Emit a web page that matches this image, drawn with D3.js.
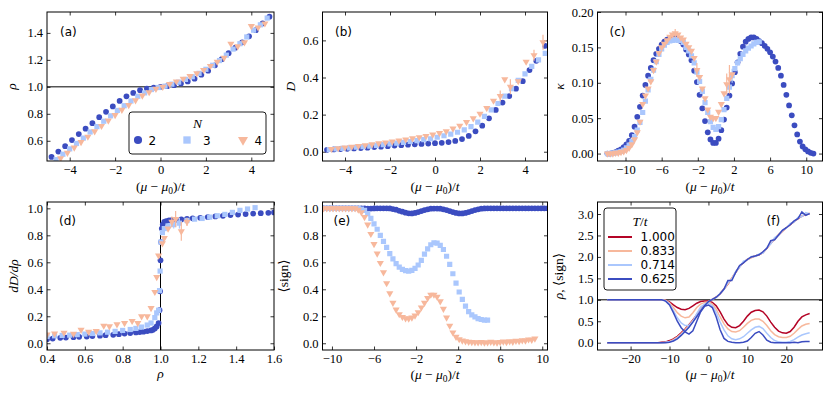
<!DOCTYPE html>
<html>
<head>
<meta charset="utf-8">
<script src="https://cdn.jsdelivr.net/npm/d3@7"></script>
<style>
  body { margin: 0; background: #fff; }
  .serif { font-family: "Liberation Serif", "DejaVu Serif", serif; }
  .sans { font-family: "DejaVu Sans", sans-serif; }
</style>
</head>
<body>
<svg id="chart" width="830" height="393"></svg>
<script>
// ---------- data ----------
// (a) density rho vs (mu - mu0)/t, pairs [mu, rho]
const rhoN2 = [[-4.8,0.48],[-4.5,0.52],[-4.2,0.56],[-3.9,0.605],[-3.6,0.65],[-3.3,0.69],[-3.0,0.73],[-2.7,0.775],[-2.4,0.815],[-2.1,0.855],[-1.8,0.895],[-1.5,0.93],[-1.2,0.955],[-0.9,0.975],[-0.6,0.987],[-0.3,0.995],[0,1.0],[0.3,1.005],[0.6,1.012],[0.9,1.025],[1.2,1.04],[1.5,1.06],[1.8,1.09],[2.1,1.12],[2.4,1.16],[2.7,1.205],[3.0,1.25],[3.3,1.29],[3.6,1.33],[3.9,1.375],[4.2,1.42],[4.5,1.47],[4.8,1.52]];
const rhoN3 = [[-4.6,0.46],[-4.3,0.50],[-4.0,0.54],[-3.7,0.58],[-3.4,0.62],[-3.1,0.665],[-2.8,0.705],[-2.5,0.745],[-2.2,0.785],[-1.9,0.825],[-1.6,0.86],[-1.3,0.895],[-1.0,0.93],[-0.7,0.955],[-0.4,0.98],[-0.1,0.995],[0.2,1.005],[0.5,1.02],[0.8,1.035],[1.1,1.055],[1.4,1.075],[1.7,1.10],[2.0,1.13],[2.3,1.16],[2.6,1.195],[2.9,1.235],[3.2,1.28],[3.5,1.32],[3.8,1.37],[4.1,1.42],[4.4,1.46],[4.7,1.51]];
const rhoN4 = [[-4.4,0.47],[-4.1,0.51],[-3.8,0.55],[-3.5,0.59],[-3.2,0.63],[-2.9,0.67],[-2.6,0.71],[-2.3,0.75],[-2.0,0.79],[-1.7,0.83],[-1.4,0.865],[-1.1,0.90],[-0.8,0.935],[-0.5,0.96],[-0.2,0.985],[0.1,1.0],[0.4,1.02],[0.7,1.04],[1.0,1.06],[1.3,1.08],[1.6,1.10],[1.9,1.125],[2.2,1.155],[2.5,1.185],[2.8,1.215],[3.1,1.32],[3.4,1.30],[3.7,1.33],[4.0,1.45],[4.3,1.44],[4.6,1.47]];

// (b) D vs (mu - mu0)/t, [mu, D, err]
const dN2 = [[-4.8,0.010],[-4.5,0.012],[-4.2,0.014],[-3.9,0.016],[-3.6,0.018],[-3.3,0.020],[-3.0,0.022],[-2.7,0.025],[-2.4,0.027],[-2.1,0.030],[-1.8,0.033],[-1.5,0.035],[-1.2,0.038],[-0.9,0.040],[-0.6,0.042],[-0.3,0.044],[0,0.046],[0.3,0.048],[0.6,0.052],[0.9,0.058],[1.2,0.068],[1.5,0.085],[1.8,0.11],[2.1,0.14],[2.4,0.18],[2.7,0.225],[3.0,0.265],[3.3,0.30],[3.6,0.34],[3.9,0.38],[4.2,0.44],[4.5,0.49],[4.9,0.57]];
const dN3 = [[-4.7,0.012],[-4.4,0.015],[-4.1,0.018],[-3.8,0.021],[-3.5,0.024],[-3.2,0.027],[-2.9,0.030],[-2.6,0.034],[-2.3,0.038],[-2.0,0.042],[-1.7,0.046],[-1.4,0.050],[-1.1,0.055],[-0.8,0.060],[-0.5,0.065],[-0.2,0.070],[0.1,0.078],[0.4,0.086],[0.7,0.095],[1.0,0.105],[1.3,0.118],[1.6,0.135],[1.9,0.16],[2.2,0.19],[2.5,0.225],[2.8,0.26],[3.1,0.30],[3.4,0.34],[3.7,0.385],[4.0,0.42],[4.3,0.46],[4.6,0.495],[4.9,0.53]];
const dN4 = [[-4.6,0.015],[-4.3,0.019],[-4.0,0.023],[-3.7,0.027],[-3.4,0.031],[-3.1,0.035],[-2.8,0.040],[-2.5,0.045],[-2.2,0.050],[-1.9,0.055],[-1.6,0.060],[-1.3,0.066],[-1.0,0.072],[-0.7,0.078],[-0.4,0.085],[-0.1,0.092],[0.2,0.100],[0.5,0.110],[0.8,0.125],[1.1,0.140],[1.4,0.160],[1.7,0.180],[2.0,0.205],[2.3,0.235],[2.6,0.275],[2.9,0.30,0.03],[3.1,0.39],[3.35,0.35,0.04],[3.7,0.38],[4.05,0.485],[4.4,0.52,0.03],[4.8,0.59,0.04]];

// (c) kappa vs (mu - mu0)/t, [mu, kappa, err]
const kN2 = [[-12.0,0.000],[-11.7,0.000],[-11.4,0.001],[-11.1,0.002],[-10.8,0.004],[-10.5,0.006],[-10.2,0.009],[-9.9,0.013],[-9.6,0.018],[-9.3,0.026],[-9.0,0.038],[-8.7,0.052],[-8.4,0.066],[-8.1,0.082],[-7.8,0.097],[-7.5,0.110],[-7.2,0.121],[-6.9,0.132],[-6.6,0.141],[-6.3,0.148],[-6.0,0.154],[-5.7,0.158],[-5.4,0.161],[-5.1,0.163],[-4.8,0.164],[-4.5,0.164],[-4.2,0.162],[-3.9,0.159],[-3.6,0.154],[-3.3,0.147],[-3.0,0.140],[-2.7,0.132],[-2.4,0.117],[-2.1,0.101],[-1.8,0.083],[-1.5,0.064],[-1.2,0.046],[-0.9,0.030],[-0.6,0.020],[-0.3,0.015],[0.0,0.015],[0.3,0.021],[0.6,0.033],[0.9,0.048],[1.2,0.065],[1.5,0.082],[1.8,0.099],[2.1,0.115],[2.4,0.129],[2.7,0.141],[3.0,0.151],[3.3,0.158],[3.6,0.162],[3.9,0.164],[4.2,0.164],[4.5,0.162],[4.8,0.159],[5.1,0.156],[5.4,0.152],[5.7,0.148],[6.0,0.143],[6.3,0.137],[6.6,0.130],[6.9,0.121],[7.2,0.110],[7.5,0.097],[7.8,0.083],[8.1,0.068],[8.4,0.054],[8.7,0.040],[9.0,0.027],[9.3,0.017],[9.6,0.010],[9.9,0.006],[10.2,0.003],[10.5,0.001],[10.8,0.000]];
const kN3 = [[-12.0,0.000],[-11.7,0.000],[-11.4,0.001],[-11.1,0.001],[-10.8,0.002],[-10.5,0.003],[-10.2,0.005],[-9.9,0.008],[-9.6,0.012],[-9.3,0.017],[-9.0,0.024],[-8.7,0.033],[-8.4,0.044],[-8.1,0.058],[-7.8,0.074],[-7.5,0.090],[-7.2,0.105],[-6.9,0.118],[-6.6,0.130],[-6.3,0.140],[-6.0,0.148],[-5.7,0.153],[-5.4,0.157],[-5.1,0.159],[-4.8,0.160],[-4.5,0.161],[-4.2,0.160],[-3.9,0.160],[-3.6,0.157],[-3.3,0.150],[-3.0,0.145],[-2.7,0.138],[-2.4,0.128],[-2.1,0.115],[-1.8,0.102],[-1.5,0.088],[-1.2,0.072],[-0.9,0.058],[-0.6,0.045],[-0.3,0.037],[0.0,0.034],[0.3,0.038],[0.6,0.048],[0.9,0.062],[1.2,0.078],[1.5,0.094,0.008],[1.8,0.110,0.01],[2.1,0.120],[2.4,0.128],[2.7,0.134],[3.0,0.140],[3.3,0.145],[3.6,0.149],[3.9,0.152],[4.2,0.155],[4.5,0.157],[4.8,0.158]];
const kN4 = [[-12.0,0.000],[-11.7,0.000],[-11.4,0.000],[-11.1,0.001],[-10.8,0.001],[-10.5,0.002],[-10.2,0.003],[-9.9,0.005],[-9.6,0.008],[-9.3,0.013],[-9.0,0.020],[-8.7,0.030],[-8.4,0.045],[-8.1,0.070],[-7.8,0.082],[-7.5,0.092],[-7.2,0.102],[-6.9,0.118],[-6.6,0.130],[-6.3,0.142],[-6.0,0.150],[-5.7,0.155],[-5.4,0.160],[-5.1,0.165],[-4.8,0.168],[-4.5,0.170,0.006],[-4.2,0.168],[-3.9,0.164],[-3.6,0.161],[-3.3,0.155],[-3.0,0.150],[-2.7,0.145],[-2.4,0.135],[-2.1,0.118,0.01],[-1.8,0.108],[-1.5,0.092],[-1.2,0.078],[-0.9,0.062],[-0.6,0.052],[-0.3,0.050],[0.0,0.050],[0.3,0.059],[0.6,0.070],[0.9,0.085],[1.2,0.098,0.015],[1.5,0.105,0.02],[1.8,0.112]];

// (d) dD/drho vs rho, [rho, dD/drho, err]
const gN2 = [[0.40,0.030],[0.43,0.035],[0.47,0.040],[0.50,0.042],[0.54,0.045],[0.57,0.048],[0.61,0.050],[0.64,0.053],[0.68,0.056],[0.71,0.060],[0.75,0.063],[0.78,0.067],[0.81,0.072],[0.84,0.076],[0.87,0.080],[0.89,0.083],[0.91,0.086],[0.93,0.090],[0.95,0.095],[0.96,0.100],[0.97,0.110],[0.98,0.125],[0.99,0.150],[0.995,0.245],[0.998,0.385],[1.0,0.615],[1.003,0.750],[1.007,0.850],[1.012,0.880],[1.02,0.900],[1.03,0.905],[1.045,0.910],[1.06,0.912],[1.08,0.915],[1.11,0.918],[1.14,0.922],[1.17,0.926],[1.21,0.930],[1.25,0.935],[1.29,0.940],[1.33,0.945],[1.37,0.950],[1.41,0.954],[1.45,0.958],[1.49,0.961],[1.53,0.964],[1.57,0.967],[1.60,0.970]];
const gN3 = [[0.40,0.050],[0.44,0.055],[0.48,0.058],[0.52,0.060],[0.56,0.064],[0.60,0.068],[0.64,0.072],[0.68,0.077],[0.72,0.082],[0.76,0.088],[0.80,0.095],[0.84,0.102],[0.87,0.110],[0.90,0.120],[0.93,0.135],[0.95,0.150],[0.97,0.190],[0.98,0.225],[0.99,0.245],[0.995,0.39],[0.998,0.535],[1.002,0.75],[1.01,0.82],[1.02,0.85],[1.04,0.87,0.02],[1.07,0.88,0.03],[1.10,0.89,0.04],[1.14,0.91],[1.18,0.92],[1.22,0.925],[1.26,0.935],[1.30,0.945],[1.34,0.955],[1.38,0.97],[1.42,0.985],[1.46,0.995],[1.50,1.005]];
const gN4 = [[0.40,0.065],[0.44,0.072],[0.49,0.078],[0.54,0.070],[0.58,0.100],[0.62,0.085],[0.66,0.090],[0.70,0.130],[0.73,0.125],[0.77,0.140],[0.81,0.150],[0.85,0.165],[0.88,0.150],[0.90,0.200],[0.93,0.200],[0.95,0.260],[0.97,0.380],[0.98,0.490],[0.99,0.650],[1.01,0.740],[1.02,0.780],[1.04,0.850],[1.06,0.900,0.04],[1.08,0.920,0.06],[1.11,0.830,0.07],[1.14,0.900,0.03]];

// (e) average sign vs (mu - mu0)/t, [mu, sign]
const sN2 = [[-10.8,1],[-10.5,1],[-10.2,1],[-9.9,1],[-9.6,1],[-9.3,1],[-9.0,1],[-8.7,1],[-8.4,1],[-8.1,1],[-7.8,1],[-7.5,1],[-7.2,1],[-6.9,0.999],[-6.6,0.998],[-6.3,0.998],[-6.0,0.999],[-5.7,1],[-5.4,1],[-5.1,1],[-4.8,1],[-4.5,0.999],[-4.2,0.995],[-3.9,0.99],[-3.6,0.982],[-3.3,0.975],[-3.0,0.968],[-2.7,0.963],[-2.4,0.962],[-2.1,0.966],[-1.8,0.972],[-1.5,0.98],[-1.2,0.987],[-0.9,0.993],[-0.6,0.997],[-0.3,0.998],[0,0.998],[0.3,0.997],[0.6,0.993],[0.9,0.987],[1.2,0.98],[1.5,0.972],[1.8,0.966],[2.1,0.962],[2.4,0.962],[2.7,0.966],[3.0,0.972],[3.3,0.98],[3.6,0.987],[3.9,0.993],[4.2,0.997],[4.5,0.999],[4.8,1],[5.1,1],[5.4,1],[5.7,1],[6.0,1],[6.3,1],[6.6,1],[6.9,1],[7.2,1],[7.5,1],[7.8,1],[8.1,1],[8.4,1],[8.7,1],[9.0,1],[9.3,1],[9.6,1],[9.9,1],[10.2,1],[10.5,1]];
const sN3 = [[-10.8,1],[-10.5,1],[-10.2,1],[-9.9,1],[-9.6,1],[-9.3,1],[-9.0,1],[-8.7,1],[-8.4,1],[-8.1,1],[-7.8,1],[-7.5,1],[-7.2,0.995],[-6.9,0.985],[-6.6,0.96],[-6.3,0.925],[-6.0,0.885],[-5.7,0.845],[-5.4,0.80],[-5.1,0.755],[-4.8,0.71],[-4.5,0.665],[-4.2,0.625],[-3.9,0.59],[-3.6,0.565],[-3.3,0.548],[-3.0,0.538],[-2.7,0.535],[-2.4,0.54],[-2.1,0.555],[-1.8,0.58],[-1.5,0.615],[-1.2,0.66],[-0.9,0.70],[-0.6,0.73],[-0.3,0.745],[0,0.742],[0.3,0.725],[0.6,0.695],[0.9,0.645],[1.2,0.585],[1.5,0.515],[1.8,0.445],[2.1,0.38],[2.4,0.325],[2.7,0.275],[3.0,0.235],[3.3,0.21],[3.6,0.195],[3.9,0.183],[4.2,0.176],[4.5,0.172],[4.8,0.172]];
const sN4 = [[-10.8,1],[-10.5,1],[-10.2,1],[-9.9,1],[-9.6,1],[-9.3,1],[-9.0,1],[-8.7,1],[-8.4,1],[-8.1,1],[-7.8,1],[-7.5,0.99],[-7.2,0.97],[-6.9,0.935],[-6.6,0.88],[-6.3,0.81],[-6.0,0.735],[-5.7,0.665],[-5.4,0.595],[-5.1,0.525],[-4.8,0.445],[-4.5,0.37],[-4.2,0.30],[-3.9,0.25],[-3.6,0.215],[-3.3,0.195],[-3.0,0.185],[-2.7,0.183],[-2.4,0.19],[-2.1,0.205],[-1.8,0.23],[-1.5,0.265],[-1.2,0.30],[-0.9,0.335],[-0.6,0.36],[-0.3,0.36],[0,0.345],[0.3,0.31],[0.6,0.255],[0.9,0.19],[1.2,0.13],[1.5,0.08],[1.8,0.048],[2.1,0.03],[2.4,0.02],[2.7,0.014],[3.0,0.01],[3.3,0.008],[3.6,0.007],[3.9,0.006],[4.2,0.008],[4.5,0.005],[4.8,0.006],[5.1,0.01],[5.4,0.007],[5.7,0.004],[6.0,0.009],[6.3,0.012],[6.6,0.008],[6.9,0.014],[7.2,0.01],[7.5,0.018],[7.8,0.015],[8.1,0.022],[8.4,0.02],[8.7,0.028],[9.0,0.025],[9.3,0.035]];

// (f) rho and sign vs (mu - mu0)/t for four temperatures
const tLabels = ['1.000', '0.833', '0.714', '0.625'];
const fMu = [-26,-25,-24,-23,-22,-21,-20,-19,-18,-17,-16,-15,-14,-13,-12,-11,-10,-9,-8,-7,-6,-5,-4,-3,-2,-1,0,1,2,3,4,5,6,7,8,9,10,11,12,13,14,15,16,17,18,19,20,21,22,23,24,25,26];
const fRho = [
  [0,0,0,0,0,0,0,0,0,0,0,0,0,0,0.01,0.02,0.05,0.09,0.15,0.23,0.32,0.42,0.53,0.65,0.77,0.88,0.96,1.01,1.06,1.14,1.25,1.37,1.5,1.64,1.77,1.87,1.94,1.99,2.02,2.05,2.1,2.2,2.32,2.42,2.51,2.6,2.68,2.75,2.82,2.89,2.95,2.99,3.01],
  [0,0,0,0,0,0,0,0,0,0,0,0,0,0,0.0,0.01,0.03,0.07,0.13,0.21,0.3,0.4,0.51,0.63,0.76,0.87,0.96,1.01,1.06,1.14,1.26,1.37,1.51,1.64,1.78,1.87,1.94,1.98,2.02,2.05,2.11,2.2,2.32,2.42,2.52,2.6,2.68,2.76,2.82,2.9,2.96,2.99,3.02],
  [0,0,0,0,0,0,0,0,0,0,0,0,0,0,0.0,0.01,0.02,0.05,0.11,0.19,0.28,0.38,0.49,0.62,0.75,0.87,0.96,1.01,1.05,1.15,1.24,1.40,1.48,1.66,1.76,1.90,1.93,2.01,2.01,2.07,2.09,2.22,2.3,2.45,2.5,2.62,2.67,2.78,2.81,2.92,2.94,3.03,3.0],
  [0,0,0,0,0,0,0,0,0,0,0,0,0,0,0.0,0.0,0.01,0.04,0.09,0.17,0.26,0.36,0.48,0.61,0.74,0.86,0.96,1.01,1.06,1.14,1.25,1.45,1.45,1.64,1.8,1.86,1.94,2.0,2.02,2.05,2.12,2.2,2.38,2.4,2.51,2.62,2.68,2.75,2.84,2.89,3.05,2.97,3.01]
];
const fSign = [
  [1,1,1,1,1,1,1,1,1,1,1,1,1,1,1.0,0.99,0.95,0.88,0.82,0.78,0.77,0.8,0.86,0.92,0.96,0.97,0.97,0.94,0.86,0.72,0.55,0.42,0.36,0.35,0.4,0.5,0.62,0.71,0.75,0.76,0.72,0.62,0.48,0.36,0.27,0.23,0.22,0.26,0.36,0.5,0.6,0.65,0.68],
  [1,1,1,1,1,1,1,1,1,1,1,1,1,1,1.0,0.99,0.93,0.82,0.7,0.62,0.58,0.6,0.7,0.82,0.9,0.94,0.95,0.9,0.78,0.6,0.44,0.32,0.26,0.25,0.28,0.36,0.45,0.52,0.55,0.55,0.5,0.4,0.28,0.19,0.14,0.12,0.12,0.15,0.22,0.31,0.39,0.43,0.45],
  [1,1,1,1,1,1,1,1,1,1,1,1,1,1,1.0,0.98,0.9,0.75,0.58,0.46,0.4,0.4,0.5,0.68,0.83,0.9,0.92,0.86,0.7,0.48,0.3,0.16,0.09,0.07,0.09,0.14,0.22,0.3,0.36,0.38,0.33,0.22,0.12,0.05,0.02,0.01,0.01,0.03,0.07,0.13,0.18,0.21,0.23],
  [1,1,1,1,1,1,1,1,1,1,1,1,1,1,1.0,0.97,0.88,0.7,0.5,0.35,0.25,0.2,0.28,0.5,0.72,0.85,0.88,0.82,0.6,0.3,0.1,0.03,0.01,0.0,0.0,0.01,0.04,0.12,0.22,0.26,0.18,0.06,0.01,0.0,0.0,0.0,0.0,0.0,0.01,0.0,0.02,0.03,0.03]
];

// tick values
const ticksMu5 = [-4, -2, 0, 2, 4];
const ticksMu10 = [-10, -6, -2, 2, 6, 10];
const ticksMu20 = [-20, -10, 0, 10, 20];
const ticksRhoA = [0.6, 0.8, 1.0, 1.2, 1.4];
const ticksD = [0.0, 0.2, 0.4, 0.6];
const ticksKappa = [0.00, 0.05, 0.10, 0.15, 0.20];
const ticksRhoD = [0.4, 0.6, 0.8, 1.0, 1.2, 1.4, 1.6];
const ticksUnit = [0.0, 0.2, 0.4, 0.6, 0.8, 1.0];
const ticksF = [0.0, 0.5, 1.0, 1.5, 2.0, 2.5, 3.0];

// ---------- drawing ----------
const svg = d3.select('#chart');
const defs = svg.append('defs');

const colorN = { 2: '#3b4cc0', 3: '#aac7fd', 4: '#f7b89c' };
const colorT = ['#b40426', '#f7b89c', '#aac7fd', '#3b4cc0'];
const symbolN = { 2: d3.symbolCircle, 3: d3.symbolSquare, 4: d3.symbolTriangle };
const sizeN = { 2: 26, 3: 27, 4: 22 };

function panel(id, box, xDom, yDom, xTicks, yTicks, xFmt, yFmt) {
  const w = box[2] - box[0], h = box[3] - box[1];
  const g = svg.append('g').attr('transform', `translate(${box[0]},${box[1]})`);
  const x = d3.scaleLinear().domain(xDom).range([0, w]);
  const y = d3.scaleLinear().domain(yDom).range([h, 0]);
  defs.append('clipPath').attr('id', 'clip-' + id)
    .append('rect').attr('width', w).attr('height', h);

  const axes = [
    [d3.axisBottom(x).tickValues(xTicks).tickFormat(xFmt), `translate(0,${h})`],
    [d3.axisTop(x).tickValues(xTicks).tickFormat(''), 'translate(0,0)'],
    [d3.axisLeft(y).tickValues(yTicks).tickFormat(yFmt), 'translate(0,0)'],
    [d3.axisRight(y).tickValues(yTicks).tickFormat(''), `translate(${w},0)`]
  ];
  axes.forEach(([ax, tr]) => {
    const a = g.append('g').attr('transform', tr)
      .call(ax.tickSizeInner(-3.5).tickSizeOuter(0).tickPadding(4));
    a.select('.domain').remove();
    a.attr('font-family', null).attr('font-size', null)
      .attr('class', 'serif').style('font-size', '12.5px');
    a.selectAll('.tick line').attr('stroke', '#000').attr('stroke-width', 0.8);
    a.selectAll('.tick text').attr('fill', '#000');
  });

  const plot = g.append('g').attr('clip-path', `url(#clip-${id})`);
  return { g, plot, x, y, w, h };
}

function frame(p) {
  p.g.append('rect')
    .attr('width', p.w).attr('height', p.h)
    .attr('fill', 'none').attr('stroke', '#000').attr('stroke-width', 1);
}

function tag(p, txt, x, y) {
  p.g.append('text').attr('x', x).attr('y', y)
    .attr('class', 'sans').style('font-size', '12px')
    .text(txt);
}

function marker(n, scale) {
  return d3.symbol(symbolN[n], sizeN[n] * (scale || 1))();
}

function scatter(p, data, n) {
  // error bars
  p.plot.append('g')
    .selectAll('line')
    .data(data.filter((d) => d[2]))
    .join('line')
    .attr('x1', (d) => p.x(d[0]))
    .attr('x2', (d) => p.x(d[0]))
    .attr('y1', (d) => p.y(d[1] - d[2]))
    .attr('y2', (d) => p.y(d[1] + d[2]))
    .attr('stroke', colorN[n])
    .attr('stroke-width', 1.2);

  p.plot.append('g')
    .selectAll('path')
    .data(data)
    .join('path')
    .attr('d', marker(n))
    .attr('transform', (d) => `translate(${p.x(d[0])},${p.y(d[1])})` + (n === 4 ? ' rotate(180)' : ''))
    .attr('fill', colorN[n]);
}

function hline(p, v) {
  p.plot.append('line')
    .attr('x1', 0).attr('x2', p.w)
    .attr('y1', p.y(v)).attr('y2', p.y(v))
    .attr('stroke', '#000').attr('stroke-width', 1);
}

function vline(p, v) {
  p.plot.append('line')
    .attr('x1', p.x(v)).attr('x2', p.x(v))
    .attr('y1', 0).attr('y2', p.h)
    .attr('stroke', '#000').attr('stroke-width', 1);
}

// x label (mu - mu0)/t
function muLabel(cx, cy) {
  const t = svg.append('text')
    .attr('x', cx).attr('y', cy)
    .attr('text-anchor', 'middle')
    .attr('class', 'serif').style('font-size', '13.5px');
  t.append('tspan').text('(');
  t.append('tspan').attr('font-style', 'italic').text('μ');
  t.append('tspan').text(' − ');
  t.append('tspan').attr('font-style', 'italic').text('μ');
  t.append('tspan').style('font-size', '9.5px').attr('dy', 3).text('0');
  t.append('tspan').attr('dy', -3).text(')/');
  t.append('tspan').attr('font-style', 'italic').text('t');
  return t;
}

function yLabel(cx, cy) {
  return svg.append('text')
    .attr('transform', `translate(${cx},${cy}) rotate(-90)`)
    .attr('text-anchor', 'middle')
    .attr('class', 'serif').style('font-size', '13.5px');
}

const fmt1 = d3.format('.1f');
const fmt2 = d3.format('.2f');
const fmtInt = d3.format('d');

// (a)
const pa = panel('a', [47, 12, 274, 161], [-5, 5], [0.45, 1.555], ticksMu5, ticksRhoA, fmtInt, fmt1);
hline(pa, 1.0);
scatter(pa, rhoN2, 2);
scatter(pa, rhoN3, 3);
scatter(pa, rhoN4, 4);
frame(pa);
tag(pa, '(a)', 13, 24);

// legend N
const leg = pa.g.append('g').attr('transform', 'translate(82,100)');
leg.append('rect')
  .attr('width', 137).attr('height', 42).attr('rx', 3)
  .attr('fill', '#fff').attr('stroke', '#000').attr('stroke-width', 0.9);
leg.append('text')
  .attr('x', 68.5).attr('y', 16)
  .attr('text-anchor', 'middle')
  .attr('class', 'serif').style('font-size', '13.5px').attr('font-style', 'italic')
  .text('N');
[[2, 9, 19.5], [3, 58, 74], [4, 114, 125.5]].forEach(([n, mx, tx]) => {
  leg.append('path')
    .attr('d', marker(n, 2))
    .attr('transform', `translate(${mx},28)` + (n === 4 ? ' rotate(180)' : ''))
    .attr('fill', colorN[n]);
  leg.append('text')
    .attr('x', tx).attr('y', 32.5)
    .attr('class', 'sans').style('font-size', '12px')
    .text(n);
});

// (b)
const pb = panel('b', [322.5, 12, 547.5, 161], [-5, 5], [-0.05, 0.753], ticksMu5, ticksD, fmtInt, fmt1);
scatter(pb, dN2, 2);
scatter(pb, dN3, 3);
scatter(pb, dN4, 4);
frame(pb);
tag(pb, '(b)', 12.5, 24);

// (c)
const pc = panel('c', [597.5, 12, 822.5, 161], [-13.1, 11.8], [-0.0105, 0.2], ticksMu10, ticksKappa, fmtInt, fmt2);
scatter(pc, kN2, 2);
scatter(pc, kN3, 3);
scatter(pc, kN4, 4);
frame(pc);
tag(pc, '(c)', 12, 24);

// (d)
const pd = panel('d', [47, 202, 274, 350], [0.4, 1.6], [-0.05, 1.047], ticksRhoD, ticksUnit, fmt1, fmt1);
vline(pd, 1.0);
scatter(pd, gN2, 2);
scatter(pd, gN3, 3);
scatter(pd, gN4, 4);
frame(pd);
tag(pd, '(d)', 12, 22.5);

// (e)
const pe = panel('e', [322.5, 202, 547.5, 350], [-10.9, 10.5], [-0.05, 1.047], ticksMu10, ticksUnit, fmtInt, fmt1);
scatter(pe, sN2, 2);
scatter(pe, sN3, 3);
scatter(pe, sN4, 4);
frame(pe);
tag(pe, '(e)', 11, 22.5);

// (f)
const pf = panel('f', [597.5, 202, 822.5, 350], [-28.5, 29.3], [-0.17, 3.28], ticksMu20, ticksF, fmtInt, fmt1);
hline(pf, 1.0);
const line = d3.line().x((d) => pf.x(d[0])).y((d) => pf.y(d[1]));
tLabels.forEach((lab, i) => {
  pf.plot.append('path')
    .datum(fMu.map((m, j) => [m, fRho[i][j]]))
    .attr('d', line)
    .attr('fill', 'none').attr('stroke', colorT[i]).attr('stroke-width', 1.5);
  pf.plot.append('path')
    .datum(fMu.map((m, j) => [m, fSign[i][j]]))
    .attr('d', line)
    .attr('fill', 'none').attr('stroke', colorT[i]).attr('stroke-width', 1.5);
});
frame(pf);
tag(pf, '(f)', 169, 23);

// legend T/t
const legF = pf.g.append('g').attr('transform', 'translate(6.5,6)');
legF.append('rect')
  .attr('width', 72).attr('height', 82).attr('rx', 3)
  .attr('fill', '#fff').attr('stroke', '#000').attr('stroke-width', 0.9);
const legTitle = legF.append('text')
  .attr('x', 36).attr('y', 18)
  .attr('text-anchor', 'middle')
  .attr('class', 'serif').style('font-size', '13.5px');
legTitle.append('tspan').attr('font-style', 'italic').text('T');
legTitle.append('tspan').text('/');
legTitle.append('tspan').attr('font-style', 'italic').text('t');
tLabels.forEach((lab, i) => {
  const yy = 29 + i * 14;
  legF.append('line')
    .attr('x1', 4).attr('x2', 28).attr('y1', yy).attr('y2', yy)
    .attr('stroke', colorT[i]).attr('stroke-width', 2);
  legF.append('text')
    .attr('x', 36.5).attr('y', yy + 4.3)
    .attr('class', 'sans').style('font-size', '12px')
    .text(lab);
});

// axis labels
muLabel(160.5, 191);
muLabel(435, 191);
muLabel(710, 191);
muLabel(435, 379);
muLabel(710, 379);
svg.append('text')
  .attr('x', 160.5).attr('y', 378)
  .attr('text-anchor', 'middle')
  .attr('class', 'serif').style('font-size', '13.5px').attr('font-style', 'italic')
  .text('ρ');

yLabel(16, 86.5).attr('font-style', 'italic').text('ρ');
yLabel(295, 86.5).attr('font-style', 'italic').text('D');
yLabel(564, 86.5).attr('font-style', 'italic').text('κ');
yLabel(18, 276).attr('font-style', 'italic').text('dD/dρ');
yLabel(288, 276).text('⟨sign⟩');
const ylF = yLabel(563, 276);
ylF.append('tspan').attr('font-style', 'italic').text('ρ');
ylF.append('tspan').text(', ⟨sign⟩');
</script>
</body>
</html>
